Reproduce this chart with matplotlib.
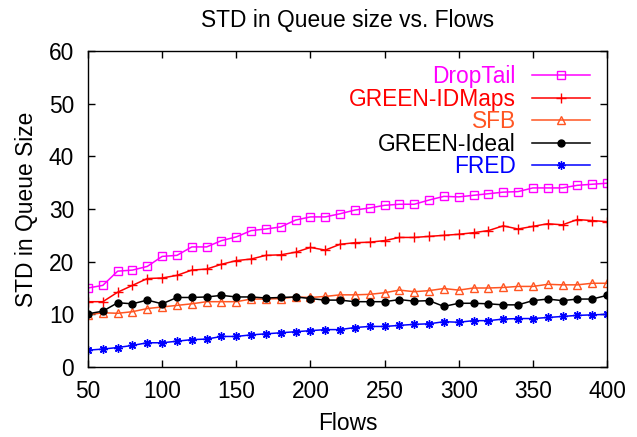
import numpy as np
import matplotlib.pyplot as plt

plt.rcParams['font.family'] = ['Liberation Sans', 'DejaVu Sans']

# number of flows, 50..400 in steps of 10
flows = list(range(50, 401, 10))

droptail = [15.0, 15.5, 18.2, 18.4, 19.1, 21.0, 21.2, 22.8, 22.8, 24.0, 24.7, 25.9,
            26.2, 26.6, 27.9, 28.5, 28.5, 29.1, 29.8, 30.2, 30.7, 30.9, 30.9, 31.7,
            32.4, 32.3, 32.6, 32.9, 33.2, 33.3, 34.0, 34.0, 34.0, 34.5, 34.7, 34.9]
green_idmaps = [12.4, 12.4, 14.2, 15.5, 16.8, 16.9, 17.4, 18.4, 18.6, 19.5, 20.2, 20.5,
                21.2, 21.3, 21.8, 22.7, 22.2, 23.3, 23.6, 23.7, 24.0, 24.6, 24.6, 24.8,
                25.0, 25.2, 25.5, 25.9, 26.8, 26.2, 26.7, 27.2, 27.0, 28.0, 27.8, 27.6]
sfb = [9.9, 10.3, 10.2, 10.5, 11.1, 11.4, 11.7, 12.0, 12.4, 12.4, 12.4, 12.9,
       12.9, 13.0, 13.3, 13.2, 13.4, 13.7, 13.7, 13.8, 14.1, 14.6, 14.3, 14.5,
       14.9, 14.6, 15.0, 15.0, 15.1, 15.3, 15.3, 15.7, 15.6, 15.6, 15.9, 15.9]
green_ideal = [10.1, 10.6, 12.2, 12.0, 12.7, 12.0, 13.2, 13.2, 13.3, 13.6, 13.3, 13.3,
               13.1, 13.2, 13.3, 13.0, 12.7, 12.7, 12.4, 12.4, 12.4, 12.8, 12.5, 12.6,
               11.5, 12.1, 12.1, 12.0, 11.8, 11.8, 12.6, 12.9, 12.6, 12.9, 12.9, 13.6]
fred = [3.2, 3.4, 3.7, 4.1, 4.6, 4.6, 4.9, 5.2, 5.3, 5.8, 5.8, 6.1,
        6.3, 6.5, 6.7, 6.9, 7.1, 7.1, 7.5, 7.7, 7.7, 7.9, 8.1, 8.2,
        8.6, 8.5, 8.8, 8.8, 9.1, 9.2, 9.2, 9.4, 9.6, 9.8, 9.9, 10.0]

fs = 16.4

fig = plt.figure(figsize=(6.37, 4.37), dpi=100)
ax = fig.add_axes([88 / 637, 70 / 437, 519 / 637, 316 / 437])

ax.plot(flows, droptail, color='#ff00ff', lw=1.1, marker='s', ms=5.5,
        mfc='none', mew=1.0, label='DropTail')
ax.plot(flows, green_idmaps, color='#ff0000', lw=1.1, marker='+', ms=7,
        mew=1.0, label='GREEN-IDMaps')
ax.plot(flows, sfb, color='#ff5522', lw=1.1, marker='^', ms=5.5,
        mfc='none', mew=1.0, label='SFB')
ax.plot(flows, green_ideal, color='black', lw=1.1, marker='o', ms=5,
        label='GREEN-Ideal')
ax.plot(flows, fred, color='#0000ff', lw=1.1, marker=(8, 2, 0), ms=6,
        mew=1.0, label='FRED')

ax.set_xlim(50, 400)
ax.set_ylim(0, 60)
ax.set_xticks(np.arange(50, 401, 50))
ax.set_yticks(np.arange(0, 61, 10))
ax.tick_params(direction='in', length=5, width=1, top=True, right=True,
               labelsize=fs)
ax.tick_params(axis='x', pad=9)
ax.tick_params(axis='y', pad=10)
for s in ax.spines.values():
    s.set_linewidth(1.0)

ax.set_title('STD in Queue size vs. Flows', fontsize=fs, pad=17)
ax.set_xlabel('Flows', fontsize=fs, labelpad=7)
ax.set_ylabel('STD in Queue Size', fontsize=fs, labelpad=8)

colors = ['#ff00ff', '#ff0000', '#ff5522', 'black', '#0000ff']
leg = ax.legend(loc='upper right', bbox_to_anchor=(0.967, 0.955), frameon=False,
                markerfirst=False, fontsize=fs, handlelength=2.55,
                handletextpad=0.7, labelspacing=-0.02, borderpad=0,
                borderaxespad=0)
# right-align the labels against the line samples
for col in leg._legend_handle_box.get_children():
    col.align = 'right'
for txt, c in zip(leg.get_texts(), colors):
    txt.set_color(c)

fig.savefig('out.png', dpi=100)
